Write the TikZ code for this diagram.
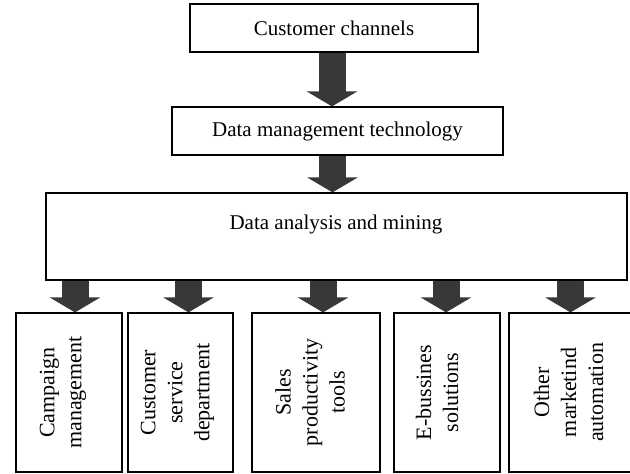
\documentclass[tikz,border=0pt]{standalone}
\usepackage{fontspec}
\setmainfont{Liberation Serif}
\usetikzlibrary{arrows.meta}

\tikzset{
  box/.style={draw=black, line width=1.2pt, rectangle, inner sep=0pt, fill=white},
  boxtext/.style={font=\fontsize{21}{26}\selectfont},
  sidetext/.style={font=\fontsize{22}{27}\selectfont, rotate=90, align=center},
  blockarrow/.style={draw=black!78, line width=27pt,
    -{Triangle[width=50pt, length=15pt, fill=black!78]}},
}

\begin{document}
\begin{tikzpicture}[x=1pt, y=-1pt]
  \useasboundingbox (0,0) rectangle (630,474);
  \fill[white] (0,0) rectangle (630,474);

  % upper chain
  \node[box, minimum width=288pt, minimum height=48pt, boxtext] (chan) at (334,28) {Customer channels};
  \node[box, minimum width=331pt, minimum height=48pt, boxtext] (mgmt) at (337.5,131) {Data management technology};
  \node[box, minimum width=581pt, minimum height=87pt] (ana) at (336.5,236.5) {};
  \node[boxtext] (anatext) at (336,224) {Data analysis and mining};

  % application boxes
  \node[box, minimum width=106pt, minimum height=159pt] (b1) at (69,392.5) {};
  \node[box, minimum width=105pt, minimum height=159pt] (b2) at (180.5,392.5) {};
  \node[box, minimum width=128pt, minimum height=159pt] (b3) at (316,392.5) {};
  \node[box, minimum width=106pt, minimum height=159pt] (b4) at (447,392.5) {};
  \node[box, minimum width=123pt, minimum height=159pt] (b5) at (570.5,392.5) {};

  \node[sidetext] (t1) at ([xshift=-6pt]b1.center) {Campaign\\management};
  \node[sidetext] (t2) at ([xshift=-3pt]b2.center) {Customer\\service\\department};
  \node[sidetext] (t3) at ([xshift=-6pt]b3.center) {Sales\\productivity\\tools};
  \node[sidetext] (t4) at ([xshift=-10pt]b4.center) {E-bussines\\solutions};
  \node[sidetext] (t5) at ([xshift=-2pt]b5.center) {Other\\marketind\\automation};

  % block arrows
  \draw[blockarrow] ([xshift=-2pt]chan.south) -- ([xshift=-2pt]chan.south |- mgmt.north);
  \draw[blockarrow] ([xshift=-5pt]mgmt.south) -- ([xshift=-5pt]mgmt.south |- ana.north);

  \path ([xshift=6pt]b1.north) coordinate (e1)
        ([xshift=8pt]b2.north) coordinate (e2)
        ([xshift=7pt]b3.north) coordinate (e3)
        ([xshift=-1pt]b4.north) coordinate (e4)
        ([xshift=0pt]b5.north) coordinate (e5);
  \foreach \e in {e1,e2,e3,e4,e5}
    \draw[blockarrow] (ana.south -| \e) -- (\e);
\end{tikzpicture}
\end{document}
